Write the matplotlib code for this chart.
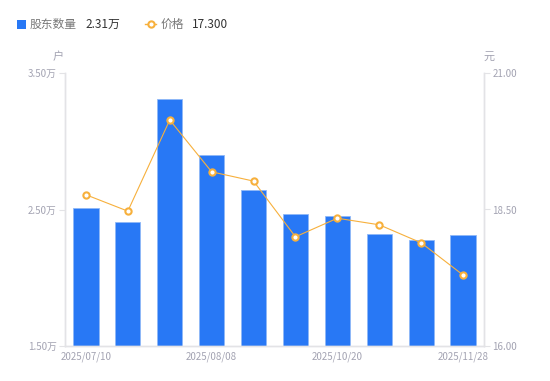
import matplotlib
matplotlib.use("Agg")
import matplotlib.pyplot as plt
from matplotlib.lines import Line2D
from matplotlib.patches import Rectangle

plt.rcParams['font.family'] = ['Noto Sans CJK SC', 'DejaVu Sans']

dates = ["2025/07/10", "", "", "2025/08/08", "", "", "2025/10/20", "", "", "2025/11/28"]
holders = [2.51, 2.41, 3.31, 2.90, 2.64, 2.47, 2.45, 2.32, 2.28, 2.31]  # 万户
price = [18.77, 18.47, 20.14, 19.19, 19.02, 18.00, 18.34, 18.22, 17.89, 17.30]

blue = "#2878f5"
orange = "#f7b03c"
grid_c = "#e3e3e6"
tick_c = "#a3a3b2"

fig = plt.figure(figsize=(5.5, 3.81), dpi=100)
ax = fig.add_axes([65/550, 1-346/381, 419/550, 273/381])
ax2 = ax.twinx()

x = list(range(len(holders)))
ax.bar(x, holders, width=0.6, color=blue, edgecolor="#8fb8f7", linewidth=0.6, zorder=2)
ax.set_ylim(1.5, 3.5)
ax.set_xlim(-0.5, len(holders) - 0.5)
ax.set_yticks([1.5, 2.5, 3.5])
ax.set_yticklabels(["1.50万", "2.50万", "3.50万"])

ax2.plot(x, price, color=orange, linewidth=0.8, marker="o", markersize=4.5,
         markerfacecolor="white", markeredgecolor=orange, markeredgewidth=1.5, zorder=3)
ax2.set_ylim(16, 21)
ax2.set_yticks([16, 18.5, 21])
ax2.set_yticklabels(["16.00", "18.50", "21.00"])

ax.set_xticks(x)
ax.set_xticklabels(dates)
ax.tick_params(axis="x", length=0, pad=4, labelsize=7, labelcolor=tick_c)
ax.tick_params(axis="y", length=4, width=0.8, color=grid_c, pad=2, labelsize=7, labelcolor=tick_c)
ax2.tick_params(axis="y", length=4, width=0.8, color=grid_c, pad=2, labelsize=7, labelcolor=tick_c)

for a in (ax, ax2):
    for s in ("top",):
        a.spines[s].set_visible(False)
    for s in ("left", "right", "bottom"):
        a.spines[s].set_color(grid_c)
        a.spines[s].set_linewidth(1)
ax.set_zorder(ax2.get_zorder() - 1)
ax2.patch.set_visible(False)

# unit labels
fig.text(58/550, 1-57/381, "户", ha="center", va="center", fontsize=8, color=tick_c)
fig.text(489/550, 1-57/381, "元", ha="center", va="center", fontsize=8, color=tick_c)

# legend row
fig.patches.append(Rectangle((17/550, 1-29/381), 9/550, 9/381, transform=fig.transFigure,
                             facecolor=blue, edgecolor="none"))
fig.text(30/550, 1-24/381, "股东数量", ha="left", va="center", fontsize=8.5, color="#777777")
fig.text(85/550, 1-24/381, "2.31万", ha="left", va="center", fontsize=8.5, color="#333333")
fig.lines.append(Line2D([145/550, 156/550], [1-24/381, 1-24/381], transform=fig.transFigure,
                        color=orange, linewidth=1, marker="o", markersize=4,
                        markevery=[], markerfacecolor="white"))
fig.lines.append(Line2D([150.5/550], [1-24/381], transform=fig.transFigure, color=orange,
                        marker="o", markersize=4.5, markerfacecolor="white",
                        markeredgewidth=1.5, linestyle="none"))
fig.text(161/550, 1-24/381, "价格", ha="left", va="center", fontsize=8.5, color="#777777")
fig.text(192/550, 1-24/381, "17.300", ha="left", va="center", fontsize=8.5, color="#333333")

fig.savefig("out.png", dpi=100)
